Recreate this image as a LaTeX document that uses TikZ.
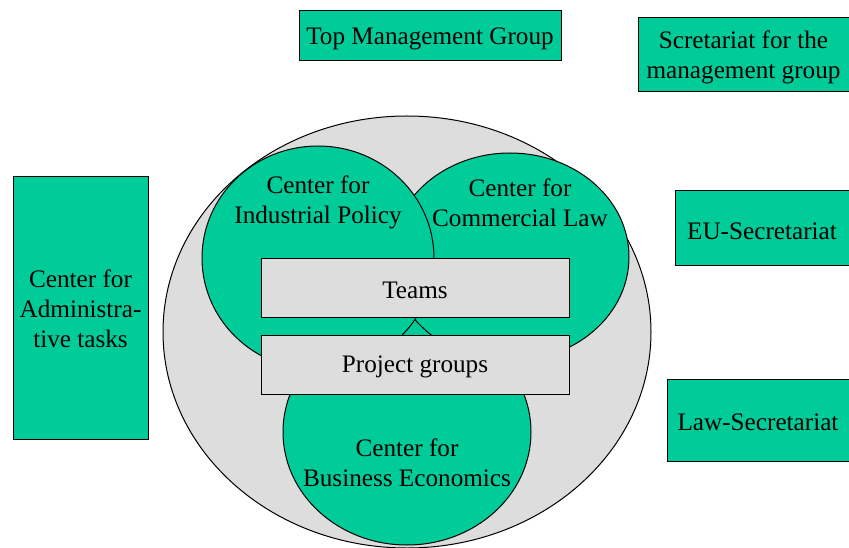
\documentclass[tikz,border=0pt]{standalone}
\usepackage{fontspec}
\setmainfont{Liberation Serif}
\usetikzlibrary{shapes.geometric}
\definecolor{tgreen}{RGB}{0,204,153}
\definecolor{tgray}{RGB}{221,221,221}
\begin{document}
\begin{tikzpicture}[x=1pt,y=-1pt,
  every node/.style={font=\fontsize{25.2}{30}\selectfont, align=center, inner sep=0pt},
  gbox/.style={draw=black, line width=1pt, fill=tgreen},
  graybox/.style={draw=black, line width=1pt, fill=tgray},
  oval/.style={ellipse, draw=black, line width=1pt, fill=tgreen},
  txt/.style={yshift=-2.5pt}]
\useasboundingbox (0,0) rectangle (849,548);
% big gray ellipse
\node[ellipse, draw=black, line width=1pt, fill=tgray, minimum width=488pt, minimum height=432pt] (big) at (407,332) {};
% centers
\node[oval, minimum width=248pt, minimum height=226pt] (bus) at (407,432) {};
\node[oval, minimum width=238pt, minimum height=208pt] (comm) at (510,257) {};
\node[oval, minimum width=232pt, minimum height=224pt] (ind) at (318,258) {};
\node[txt] (indt) at (318,200) {Center for\\Industrial Policy};
\node[txt] (commt) at (520,200) {Center for\\Commercial Law};
\node (bust) at (407,463) {Center for\\Business Economics};
% teams / project groups
\node[graybox, minimum width=308pt, minimum height=58pt, label={[txt]center:Teams}] (teams) at (415,288) {};
\node[graybox, minimum width=308pt, minimum height=59pt, label={[txt]center:Project groups}] (pg) at (415,364.5) {};
% outer boxes
\node[gbox, minimum width=262pt, minimum height=50pt, label={[txt]center:Top Management Group}] (top) at (430,36) {};
\node[gbox, minimum width=211pt, minimum height=74pt, label={[txt]center:Scretariat for the\\management group}] (sec) at (743.5,55) {};
\node[gbox, minimum width=174pt, minimum height=75pt, label={[txt]center:EU-Secretariat}] (eu) at (762,228.5) {};
\node[gbox, minimum width=182pt, minimum height=82pt, label={[txt]center:Law-Secretariat}] (law) at (758,420) {};
\node[gbox, minimum width=135pt, minimum height=262pt, label={[yshift=-1pt]center:Center for\\Administra-\\tive tasks}] (adm) at (80.5,308) {};
\end{tikzpicture}
\end{document}
